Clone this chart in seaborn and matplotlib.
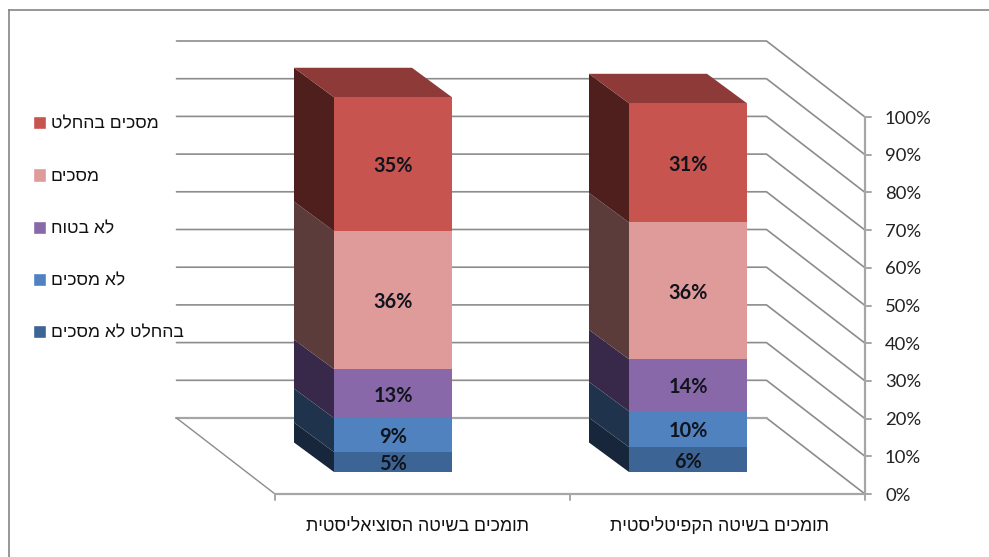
import matplotlib
matplotlib.use('Agg')
import numpy as np
import seaborn as sns
import matplotlib.pyplot as plt
from matplotlib.patches import Patch, Polygon

# Data, bottom segment first
categories = ['תומכים בשיטה הסוציאליסטית', 'תומכים בשיטה הקפיטליסטית']
series_names = ['בהחלט לא מסכים', 'לא מסכים', 'לא בטוח', 'מסכים', 'מסכים בהחלט']
strongly_disagree = [5.3, 6.6]
disagree = [9.0, 9.5]
not_sure = [13.0, 13.8]
agree = [36.6, 36.3]
strongly_agree = [35.5, 31.6]
series_values = [strongly_disagree, disagree, not_sure, agree, strongly_agree]
# Printed labels, the chart's rounding does not always follow the bar height
series_labels = [['5%', '6%'], ['9%', '10%'], ['13%', '14%'], ['36%', '36%'], ['35%', '31%']]
axis_ticks = [0, 10, 20, 30, 40, 50, 60, 70, 80, 90, 100]

front_colors = ['#3C6595', '#5082C0', '#8868A8', '#DF9B99', '#C8544F']
side_colors = ['#17263A', '#1F344C', '#38294A', '#5B3C3A', '#4E1F1C']
top_color = '#8E3A38'
line_color = '#8C8C8C'
axis_color = '#A6A6A6'
text_color = '#222222'

# Size of the figure and scale of the bar plane, in pixels
W, H = 989, 557
PX_X = 295.0
PX_Y = 3.77


def rtl(s):
    # matplotlib has no bidi support, so Hebrew goes in visual order
    return s[::-1]


sns.set_theme(style='white')
plt.rcParams['font.family'] = ['Lato', 'DejaVu Sans']

fig = plt.figure(figsize=(W / 100, H / 100), dpi=100)
ax = fig.add_axes([8.5 / W, 0, 1 - 8.5 / W, 1 - 9.5 / H])

# Offsets of the chart's floor and back wall from the front of the bars
front_dy = -22 / PX_Y
back_dx, back_dy = -98.5 / PX_X, 54 / PX_Y
bar_dx, bar_dy = -40 / PX_X, 29.5 / PX_Y
x_left = -0.4
x_right = 1.6

# Walls and floor behind the bars
for t in axis_ticks:
    xs = [x_left + back_dx, x_right + back_dx, x_right]
    ys = [t + back_dy, t + back_dy, t + front_dy]
    ax.plot(xs, ys, color=line_color, lw=1.2, zorder=1)
    ax.plot([x_right, x_right + 6 / PX_X], [t + front_dy] * 2, color=axis_color, lw=1.4, zorder=1)
    ax.text(x_right + 20 / PX_X, t + front_dy - 0.4, '%d%%' % t, color=text_color, fontsize=13.3,
            ha='left', va='center')
ax.plot([x_left + back_dx, x_right + back_dx], [back_dy, back_dy], color=axis_color, lw=1.6, zorder=1)
ax.plot([x_left + back_dx, x_left], [back_dy, front_dy], color=line_color, lw=1.0, zorder=1)
ax.plot([x_left, x_right], [front_dy, front_dy], color=axis_color, lw=1.6, zorder=1)
ax.plot([x_right, x_right], [front_dy, 100 + front_dy], color=axis_color, lw=1.6, zorder=1)
for c in [x_left, 0.6, x_right]:
    ax.plot([c, c], [front_dy, front_dy - 6 / PX_Y], color=axis_color, lw=1.4, zorder=1)

# Stacked bars, then the oblique faces taken from the drawn rectangles
bottoms = np.zeros(len(categories))
for i, values in enumerate(series_values):
    sns.barplot(x=categories, y=values, bottom=bottoms, color=front_colors[i], saturation=1,
                width=0.4, ax=ax, zorder=3, linewidth=0)
    bars = ax.containers[-1]
    for rect in bars:
        x0, y0, w, h = rect.get_x(), rect.get_y(), rect.get_width(), rect.get_height()
        ax.add_patch(Polygon([(x0, y0), (x0, y0 + h), (x0 + bar_dx, y0 + h + bar_dy), (x0 + bar_dx, y0 + bar_dy)],
                             facecolor=side_colors[i], edgecolor='none', zorder=2))
        if i == len(series_values) - 1:
            ax.add_patch(Polygon([(x0, y0 + h), (x0 + w, y0 + h), (x0 + w + bar_dx, y0 + h + bar_dy),
                                  (x0 + bar_dx, y0 + h + bar_dy)],
                                 facecolor=top_color, edgecolor='none', zorder=2))
    ax.bar_label(bars, labels=series_labels[i], label_type='center', fontsize=14.3, fontweight='bold',
                 color='#10141C', zorder=5, padding=-1.5)
    bottoms = bottoms + np.array(values)

# The two captions do not sit quite the same way under their bars
label_shift = [25, 31]
for j, name in enumerate(categories):
    ax.text(j + label_shift[j] / PX_X, front_dy - 32 / PX_Y, rtl(name), family='Liberation Sans', fontsize=12.8,
            color='#111111', ha='center', va='center')

ax.set_xlim((8.5 - 393) / PX_X, (W - 393) / PX_X)
ax.set_ylim((472 - H) / PX_Y, (472 - 9.5) / PX_Y)
ax.set_xticks([])
ax.set_yticks([])
ax.set_xlabel('')
ax.set_ylabel('')

# Only the left and top of the outer frame are in the picture
sns.despine(ax=ax, top=False, left=False, right=True, bottom=True)
for side in ['left', 'top']:
    ax.spines[side].set_color('#858585')
    ax.spines[side].set_linewidth(1.2)

handles = [Patch(facecolor=front_colors[i], label=rtl(series_names[i])) for i in range(len(series_names) - 1, -1, -1)]
ax.legend(handles=handles, loc='upper left', bbox_to_anchor=(17 / W, 1 - 100.5 / H), bbox_transform=fig.transFigure,
          frameon=False, labelspacing=2.09, handlelength=0.78, handleheight=0.78, handletextpad=0.25,
          prop={'family': 'Liberation Sans', 'size': 12.6}, labelcolor='#111111')

fig.savefig('out.png', dpi=100)
